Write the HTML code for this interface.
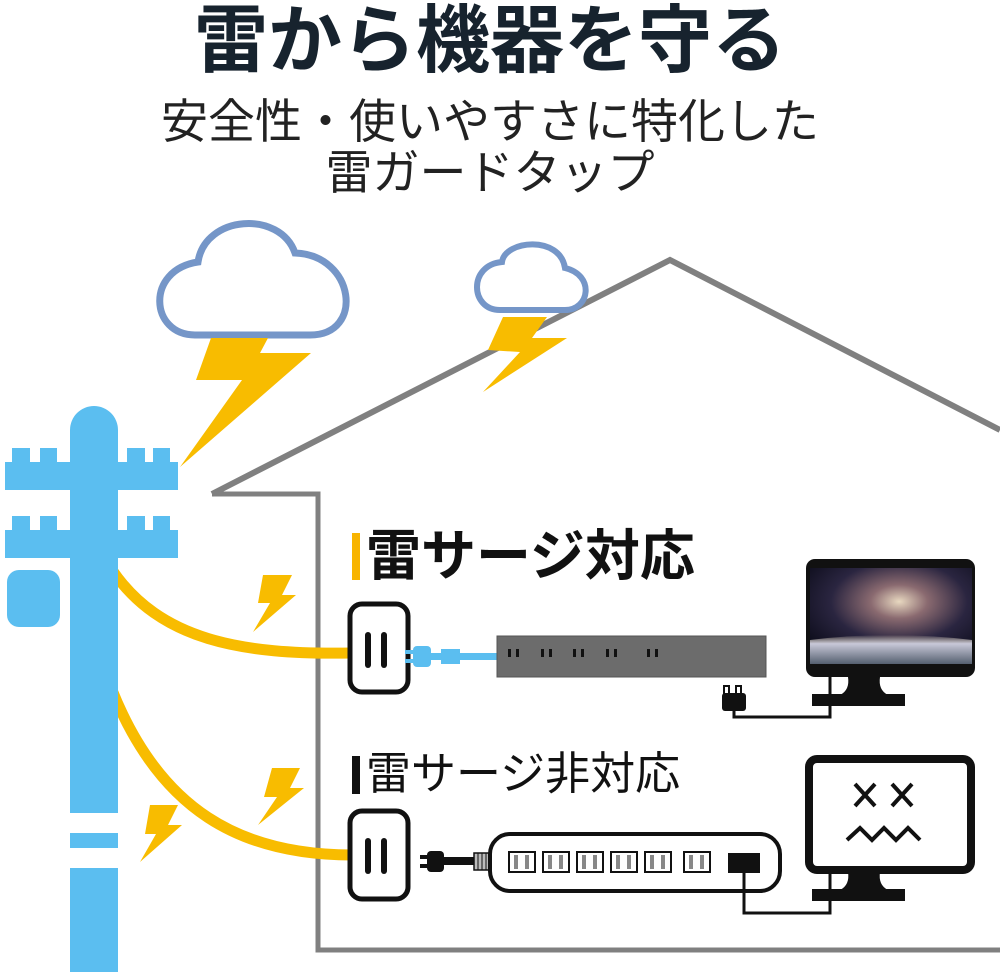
<!DOCTYPE html>
<html><head><meta charset="utf-8"><style>
html,body{margin:0;padding:0;background:#fff;}
body{width:1000px;height:972px;overflow:hidden;position:relative;font-family:"Liberation Sans","Noto Sans CJK JP",sans-serif;}
.t{position:absolute;white-space:nowrap;}
</style></head><body>
<svg width="1000" height="972" style="position:absolute;left:0;top:0">
<defs>
<radialGradient id="sp" cx="0.55" cy="0.35" r="0.7">
<stop offset="0" stop-color="#e8d8c0"/><stop offset="0.25" stop-color="#8a6a70"/><stop offset="0.6" stop-color="#2a2540"/><stop offset="1" stop-color="#0c0c1a"/>
</radialGradient>
<linearGradient id="pl" x1="0" y1="0" x2="0" y2="1"><stop offset="0" stop-color="#fff0d0" stop-opacity="0"/><stop offset="0.3" stop-color="#c8c8d8"/><stop offset="1" stop-color="#556070"/></linearGradient>
</defs>
<polyline points="212,494 670,260 1000,430" fill="none" stroke="#808080" stroke-width="6"/>
<polyline points="212,494 318,494 318,950 1000,950" fill="none" stroke="#808080" stroke-width="5"/>
<path d="M195,335 C150,335 145,270 198,262 C205,215 280,210 295,253 C355,255 365,335 310,335 Z" fill="#fff" stroke="#7596c8" stroke-width="7"/>
<path d="M500,310 C470,310 468,265 502,262 C505,240 560,235 565,268 C595,275 590,310 565,310 Z" fill="#fff" stroke="#7596c8" stroke-width="6"/>
<g fill="#f8bc00">
<polygon points="211,338 268,338 260,353 311,353 180,467 242,380 196,380"/>
<polygon points="503,317 547,317 532,338 567,338 483,392 520,352 488,350"/>
<polygon points="263,575 292,575 282,595 296,595 253,632 270,603 258,603"/>
<polygon points="272,768 300,768 290,788 304,788 258,825 277,797 264,797"/>
<polygon points="150,805 178,805 168,825 182,825 140,862 156,834 145,834"/>
</g>
<path d="M112,570 C160,640 240,655 352,653" fill="none" stroke="#f8bc00" stroke-width="11"/>
<path d="M112,690 C160,810 240,855 352,855" fill="none" stroke="#f8bc00" stroke-width="11"/>
<g fill="#5bbef0">
<path d="M70,430 a24,24 0 0 1 48,0 V972 H70 Z"/>
<rect x="5" y="462" width="173" height="28"/>
<rect x="12" y="448" width="18" height="16"/><rect x="40" y="448" width="17" height="16"/>
<rect x="127" y="448" width="18" height="16"/><rect x="153" y="448" width="17" height="16"/>
<rect x="5" y="530" width="173" height="28"/>
<rect x="12" y="516" width="18" height="16"/><rect x="40" y="516" width="17" height="16"/>
<rect x="127" y="516" width="18" height="16"/><rect x="153" y="516" width="17" height="16"/>
<rect x="7" y="570" width="53" height="57" rx="12"/>
</g>
<rect x="68" y="813" width="52" height="20" fill="#fff"/>
<rect x="68" y="848" width="52" height="20" fill="#fff"/>
<rect x="352" y="533" width="8" height="47" fill="#f8b400"/>
<rect x="352" y="756" width="8" height="38" fill="#111"/>
<!-- outlet 1 -->
<rect x="350" y="604" width="58" height="88" rx="12" fill="#fff" stroke="#111" stroke-width="5"/>
<rect x="365" y="632" width="6" height="36" rx="3" fill="#111"/><rect x="381" y="632" width="6" height="36" rx="3" fill="#111"/>
<g fill="#5bbef0">
<rect x="405" y="650" width="10" height="4"/><rect x="405" y="659" width="10" height="4"/>
<rect x="413" y="646" width="18" height="21" rx="4"/>
<rect x="431" y="653" width="10" height="7"/>
<rect x="441" y="649" width="19" height="15"/>
<rect x="460" y="653" width="37" height="7"/>
</g>
<rect x="497" y="636" width="269" height="41" fill="#6c6c6c" stroke="#555" stroke-width="1"/>
<g fill="#111">
<rect x="508" y="649" width="3" height="8"/><rect x="516" y="649" width="3" height="8"/>
<rect x="541" y="649" width="3" height="8"/><rect x="549" y="649" width="3" height="8"/>
<rect x="573" y="649" width="3" height="8"/><rect x="581" y="649" width="3" height="8"/>
<rect x="606" y="649" width="3" height="8"/><rect x="614" y="649" width="3" height="8"/>
<rect x="647" y="649" width="3" height="8"/><rect x="655" y="649" width="3" height="8"/>
</g>
<rect x="724" y="686" width="5" height="8" fill="none" stroke="#111" stroke-width="2"/>
<rect x="736" y="686" width="5" height="8" fill="none" stroke="#111" stroke-width="2"/>
<rect x="722" y="693" width="24" height="18" rx="3" fill="#111"/>
<polyline points="734,711 734,717 830,717 830,676" fill="none" stroke="#111" stroke-width="3"/>
<rect x="806" y="559" width="169" height="118" rx="9" fill="#111"/>
<rect x="810" y="568" width="162" height="96" fill="url(#sp)"/>
<path d="M810,640 Q890,630 972,640 V664 H810 Z" fill="url(#pl)"/>
<path d="M848,677 H880 Q878,690 888,695 H840 Q850,690 848,677 Z" fill="#111"/>
<rect x="812" y="694" width="93" height="12" fill="#111"/>
<!-- outlet 2 -->
<rect x="350" y="811" width="58" height="88" rx="12" fill="#fff" stroke="#111" stroke-width="5"/>
<rect x="365" y="838" width="6" height="36" rx="3" fill="#111"/><rect x="381" y="838" width="6" height="36" rx="3" fill="#111"/>
<g fill="#111">
<rect x="420" y="855" width="8" height="4"/><rect x="420" y="864" width="8" height="4"/>
<rect x="427" y="851" width="17" height="21" rx="4"/>
<rect x="444" y="857" width="30" height="8"/>
</g>
<rect x="474" y="853" width="16" height="17" fill="#bbb" stroke="#111" stroke-width="1.5"/>
<line x1="478" y1="853" x2="478" y2="870" stroke="#111"/><line x1="482" y1="853" x2="482" y2="870" stroke="#111"/><line x1="486" y1="853" x2="486" y2="870" stroke="#111"/>
<rect x="490" y="834" width="290" height="57" rx="20" fill="#fff" stroke="#111" stroke-width="4"/>
<g fill="#fff" stroke="#111" stroke-width="2">
<rect x="509" y="852" width="26" height="20"/><rect x="543" y="852" width="26" height="20"/><rect x="577" y="852" width="26" height="20"/><rect x="611" y="852" width="26" height="20"/><rect x="645" y="852" width="26" height="20"/>
</g>
<g fill="#888">
<rect x="514" y="855" width="4" height="14"/><rect x="525" y="855" width="4" height="14"/>
<rect x="548" y="855" width="4" height="14"/><rect x="559" y="855" width="4" height="14"/>
<rect x="582" y="855" width="4" height="14"/><rect x="593" y="855" width="4" height="14"/>
<rect x="616" y="855" width="4" height="14"/><rect x="627" y="855" width="4" height="14"/>
<rect x="650" y="855" width="4" height="14"/><rect x="661" y="855" width="4" height="14"/>
</g>
<rect x="684" y="852" width="26" height="20" fill="#fff" stroke="#111" stroke-width="2"/>
<rect x="689" y="855" width="4" height="14" fill="#888"/><rect x="700" y="855" width="4" height="14" fill="#888"/>
<rect x="728" y="853" width="32" height="20" fill="#111"/>
<polyline points="744,873 744,913 830,913 830,873" fill="none" stroke="#111" stroke-width="3"/>
<rect x="809" y="759" width="162" height="111" rx="8" fill="#fff" stroke="#111" stroke-width="8"/>
<g stroke="#111" stroke-width="4" fill="none">
<path d="M855,784 L875,806 M875,784 L855,806"/>
<path d="M892,784 L912,806 M912,784 L892,806"/>
<polyline points="847,840 860,828 872,840 884,828 896,840 908,828 920,840"/>
</g>
<path d="M848,872 H880 Q878,885 888,890 H840 Q850,885 848,872 Z" fill="#111"/>
<rect x="812" y="889" width="93" height="12" fill="#111"/>
</svg>
<div class="t" style="left:0;width:980px;text-align:center;top:-2px;font-size:74px;font-weight:bold;color:#17232e;line-height:86px;">雷から機器を守る</div>
<div class="t" style="left:0;width:980px;text-align:center;top:94px;font-size:47px;color:#222;line-height:56px;">安全性・使いやすさに特化した</div>
<div class="t" style="left:0;width:980px;text-align:center;top:145px;font-size:47px;color:#222;line-height:56px;">雷ガードタップ</div>
<div class="t" style="left:366px;top:524px;font-size:55px;font-weight:bold;color:#111;line-height:64px;">雷サージ対応</div>
<div class="t" style="left:366px;top:746px;font-size:45px;color:#111;line-height:56px;">雷サージ非対応</div>
</body></html>
